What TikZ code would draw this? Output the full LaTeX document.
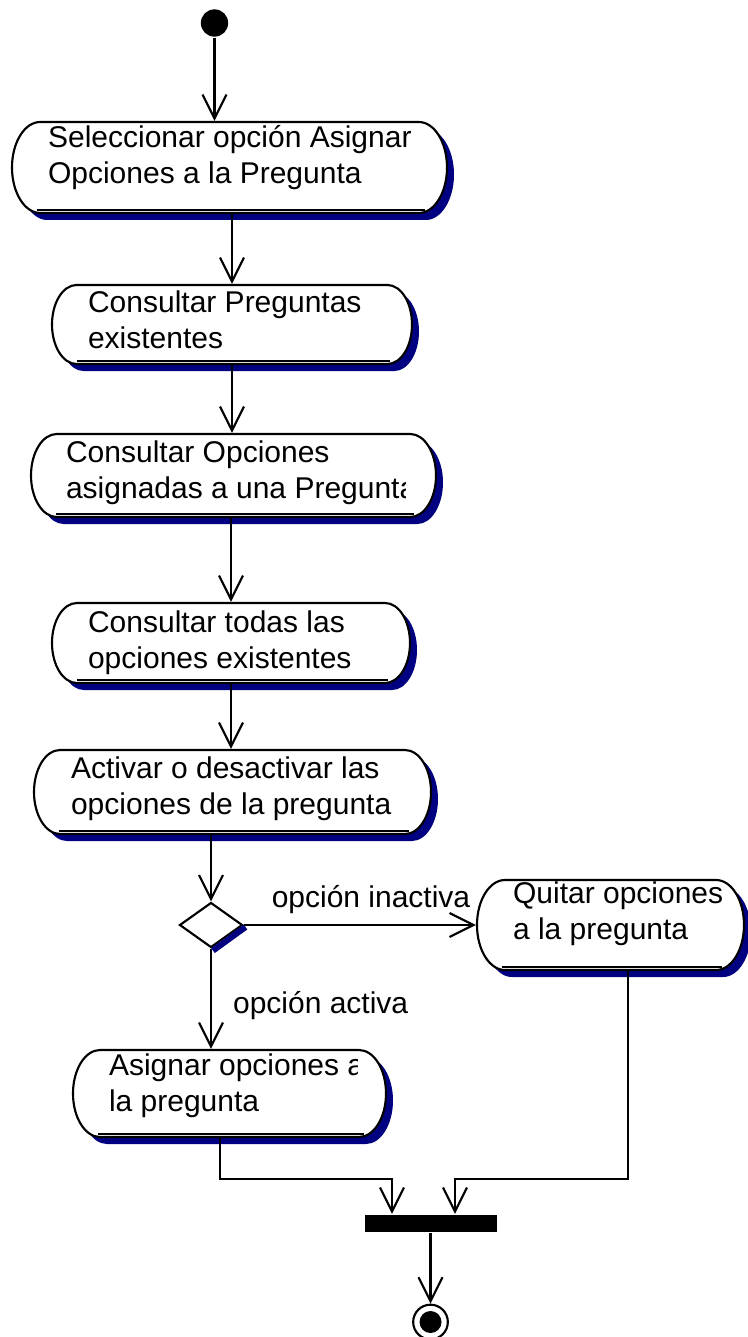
\documentclass[tikz,border=0pt]{standalone}
\usepackage{fontspec}
\setmainfont{Liberation Sans}
\usetikzlibrary{arrows.meta, positioning, calc, shapes.geometric, fit}
\definecolor{sombra}{RGB}{0,0,128}

\begin{document}
\begin{tikzpicture}[x=0.75pt, y=0.75pt, line width=1.6pt,
    flecha/.style={-{Straight Barb[length=18pt, width=18pt]}},
    caja/.style={inner sep=0pt},
    texto/.style={inner sep=0pt, align=left, anchor=base west, font=\fontsize{22.5}{27}\selectfont},
    inicio/.style={circle, fill=black, minimum size=20.5pt, inner sep=0pt},
    fin/.style={circle, draw, fill=white, minimum size=26pt, inner sep=0pt},
    decision/.style={diamond, draw, fill=white, minimum width=47.25pt, minimum height=33.75pt, inner sep=0pt},
    barra/.style={rectangle, fill=black, minimum width=99pt, minimum height=12.75pt, inner sep=0pt}]
    \useasboundingbox (0,0) rectangle (747,-1337);

    \foreach \a/\xa/\ya/\xb/\yb in {sel/12/122/447/213, cpr/52/285/412/364, cop/31/434/436/517,
            cto/52/603/410/683, act/34/750/431/834, qui/477/880/744/970, asi/73/1050/386/1137}{
        \pgfmathsetmacro{\ry}{(\yb-\ya)/2}
        \pgfmathsetmacro{\rx}{0.31*(\yb-\ya)}
        \fill[sombra, shift={(7,-7)}] (\xa+\rx,-\ya) -- (\xb-\rx,-\ya)
            arc[start angle=90, end angle=-90, x radius=\rx, y radius=\ry] -- (\xa+\rx,-\yb)
            arc[start angle=270, end angle=90, x radius=\rx, y radius=\ry] -- cycle;
        \draw[fill=white] (\xa+\rx,-\ya) -- (\xb-\rx,-\ya)
            arc[start angle=90, end angle=-90, x radius=\rx, y radius=\ry] -- (\xa+\rx,-\yb)
            arc[start angle=270, end angle=90, x radius=\rx, y radius=\ry] -- cycle;
        \draw (\xa+25,-\yb+3) -- (\xb-22,-\yb+3);
        \node[caja, fit={(\xa,-\yb) (\xb,-\ya)}] (\a) {};
    }

    \node[texto] (sel-t) at (47,-184) {Seleccionar opción Asignar\\Opciones a la Pregunta};
    \node[texto] (cpr-t) at (87,-349) {Consultar Preguntas\\existentes};
    \begin{scope}
        \clip (60,-436) rectangle (405,-515);
        \node[texto] (cop-t) at (65,-498) {Consultar Opciones\\asignadas a una Pregunta};
    \end{scope}
    \node[texto] (cto-t) at (87,-668) {Consultar todas las\\opciones existentes};
    \node[texto] (act-t) at (70,-814) {Activar o desactivar las\\opciones de la pregunta};
    \node[texto] (qui-t) at (512,-939) {Quitar opciones\\a la pregunta};
    \begin{scope}
        \clip (100,-1052) rectangle (357,-1135);
        \node[texto] (asi-t) at (108,-1111) {Asignar opciones a\\la pregunta};
    \end{scope}

    \node[inicio] (ini) at (214.5,-23) {};
    \node[decision] (dec) at (211,-925) {};
    \draw[sombra, line width=4.5pt] ($(dec.east)+(2,-2)$) -- ($(dec.south)+(2,-2)$);
    \node[barra] (bar) at (431,-1223.5) {};
    \node[fin] (fin) at (430.5,-1322) {};
    \fill (fin.center) circle (8.25pt);

    \node[texto, anchor=base] (l-inac) at (371,-907) {opción inactiva};
    \node[texto] (l-act) at (232,-1013) {opción activa};

    \draw[flecha] (ini) -- (ini |- sel.north);
    \draw[flecha] (sel.south -| cpr.north) -- (cpr.north);
    \draw[flecha] (cpr.south) -- (cpr.south |- cop.north);
    \draw[flecha] (cop.south -| cto.north) -- (cto.north);
    \draw[flecha] (cto.south) -- (cto.south |- act.north);
    \draw[flecha] (act.south -| dec.north) -- (dec.north);
    \draw[flecha] (dec.east) -- (dec.east -| qui.west);
    \draw[flecha] (dec.south) -- (dec.south |- asi.north);
    \draw[flecha] ($(asi.south)+(-9.5,0)$) -- ++(0,-41) -| ($(bar.north)+(-39,0)$);
    \draw[flecha] ($(qui.south)+(17.5,0)$) -- ++(0,-208) -| ($(bar.north)+(24,0)$);
    \draw[flecha] (bar.south -| fin.north) -- (fin.north);
\end{tikzpicture}
\end{document}
